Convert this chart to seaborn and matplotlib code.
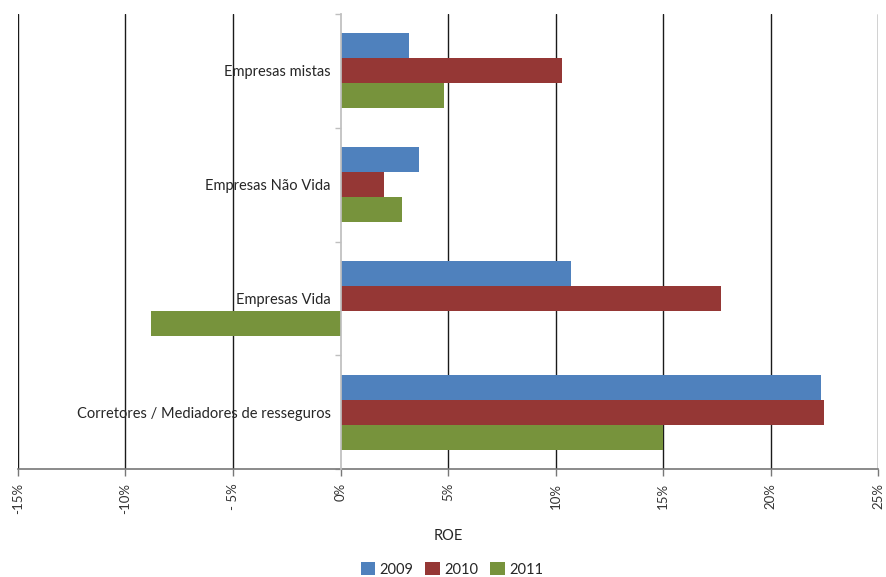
import matplotlib
matplotlib.use("Agg")
import matplotlib.pyplot as plt
from matplotlib.patches import Patch
import seaborn as sns
import pandas as pd

# ROE by type of undertaking and year (fractions)
categories = ["Empresas mistas", "Empresas Não Vida", "Empresas Vida",
              "Corretores / Mediadores de resseguros"]
years = ["2009", "2010", "2011"]
roe_2009 = [0.032, 0.0365, 0.107, 0.2235]
roe_2010 = [0.103, 0.020, 0.177, 0.225]
roe_2011 = [0.048, 0.0285, -0.088, 0.150]
x_ticks = [-0.15, -0.10, -0.05, 0.0, 0.05, 0.10, 0.15, 0.20, 0.25]
x_tick_labels = ["-15%", "-10%", "- 5%", "0%", "5%", "10%", "15%", "20%", "25%"]
colors = ["#4F81BD", "#953735", "#77933C"]

rows = []
for year, vals in zip(years, [roe_2009, roe_2010, roe_2011]):
    for cat, v in zip(categories, vals):
        rows.append({"Categoria": cat, "Ano": year, "ROE": v})
df = pd.DataFrame(rows)

sns.set_theme(style="white")
plt.rcParams["font.family"] = ["Lato", "DejaVu Sans"]

fig = plt.figure(figsize=(8.86, 5.77), dpi=100)
ax = fig.add_axes([0.0203, 0.1872, 0.9707, 0.7885])

sns.barplot(data=df, y="Categoria", x="ROE", hue="Ano", order=categories,
            hue_order=years, palette=colors, orient="h", width=0.66,
            saturation=1, edgecolor="none", ax=ax, legend=False, zorder=3)

ax.set_xlim(-0.15, 0.25)
ax.set_ylim(3.5, -0.5)
ax.set_xticks(x_ticks)
ax.set_xticklabels(x_tick_labels, rotation=90, fontsize=9.5, color="#333333")

# vertical gridlines, except at zero where the category axis sits
ax.xaxis.grid(True, color="#1a1a1a", linewidth=1.0, zorder=0)
for val, gl in zip(x_ticks, ax.get_xgridlines()):
    if val == 0.0:
        gl.set_visible(False)
ax.set_axisbelow(True)

# category axis placed at x = 0
ax.spines["left"].set_position(("data", 0))
ax.spines["left"].set_color("#BFBFBF")
ax.spines["left"].set_zorder(4)
ax.spines["right"].set_visible(False)
ax.spines["top"].set_visible(False)
ax.spines["bottom"].set_color("#777777")
ax.spines["bottom"].set_linewidth(1.2)

ax.set_yticks(range(len(categories)))
ax.set_yticklabels(categories, fontsize=10.5, color="#262626")
ax.set_yticks([i - 0.5 for i in range(len(categories) + 1)], minor=True)
ax.tick_params(axis="y", which="major", length=0, pad=7)
ax.tick_params(axis="y", which="minor", length=4, color="#BFBFBF", width=1, left=True)
ax.tick_params(axis="x", which="major", length=5, color="#777777", width=1,
               bottom=True, pad=5)

ax.set_ylabel("")
ax.set_xlabel("ROE", fontsize=10.5, color="#262626", labelpad=11)

handles = [Patch(facecolor=c, edgecolor="none", label=y) for c, y in zip(colors, years)]
fig.legend(handles=handles, loc="lower center", bbox_to_anchor=(0.51, -0.022),
           ncol=3, frameon=False, fontsize=10.5, handlelength=1.0, handleheight=1.0,
           handletextpad=0.3, columnspacing=0.8)

fig.savefig("out.png", dpi=100)
